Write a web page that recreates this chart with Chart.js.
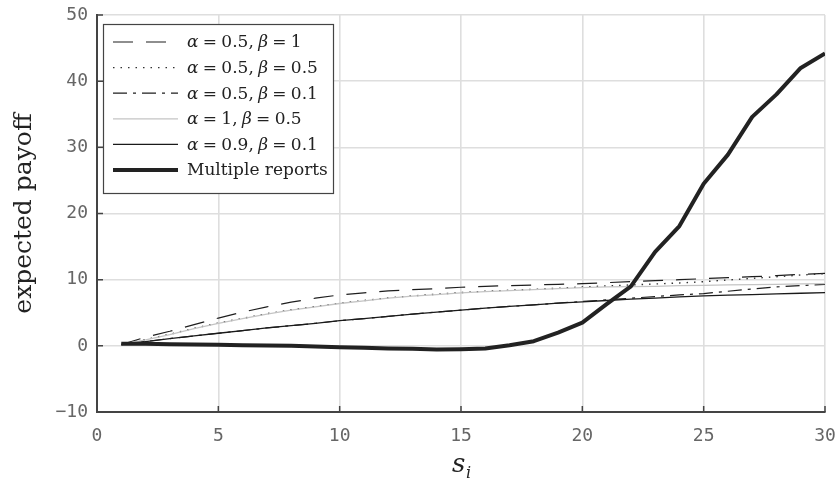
<!DOCTYPE html>
<html>
<head>
<meta charset="utf-8">
<script src="https://cdn.jsdelivr.net/npm/chart.js@4.4.1/dist/chart.umd.min.js"></script>
<style>
  html, body { margin: 0; padding: 0; background: #fff; }
  #wrap { width: 835px; height: 485px; }
</style>
</head>
<body>
<div id="wrap"><canvas id="c"></canvas></div>
<script>
// Expected payoff vs s_i for several (alpha, beta) settings, plus the multiple-reports case.
const S = [1, 2, 3, 4, 5, 6, 7, 8, 9, 10, 11, 12, 13, 14, 15,
           16, 17, 18, 19, 20, 21, 22, 23, 24, 25, 26, 27, 28, 29, 30];

const LABELS = ["α = 0.5, β = 1", "α = 0.5, β = 0.5", "α = 0.5, β = 0.1",
                "α = 1, β = 0.5", "α = 0.9, β = 0.1", "Multiple reports"];

const A05_B1 = [0.2, 1.3, 2.2, 3.2, 4.2, 5.1, 5.9, 6.6, 7.2, 7.7, 8.0, 8.3, 8.5, 8.65, 8.85,
                9.0, 9.1, 9.2, 9.3, 9.4, 9.55, 9.7, 9.85, 10.0, 10.15, 10.3, 10.45, 10.6, 10.8, 10.95];
const A05_B05 = [0.2, 0.95, 1.75, 2.65, 3.45, 4.15, 4.85, 5.45, 5.95, 6.45, 6.85, 7.25, 7.55, 7.8, 8.05,
                 8.25, 8.4, 8.55, 8.7, 8.9, 9.05, 9.2, 9.35, 9.5, 9.7, 9.95, 10.2, 10.45, 10.7, 10.9];
const A05_B01 = [0.2, 0.65, 1.1, 1.5, 1.9, 2.3, 2.7, 3.05, 3.4, 3.8, 4.1, 4.45, 4.8, 5.1, 5.4,
                 5.7, 5.95, 6.2, 6.45, 6.7, 6.95, 7.2, 7.45, 7.7, 7.9, 8.25, 8.6, 8.9, 9.1, 9.3];
const A1_B05 = [0.2, 0.9, 1.7, 2.6, 3.4, 4.1, 4.8, 5.4, 5.9, 6.4, 6.8, 7.2, 7.5, 7.75, 8.0,
                8.2, 8.35, 8.5, 8.65, 8.8, 8.9, 8.95, 9.0, 9.1, 9.15, 9.2, 9.25, 9.3, 9.35, 9.4];
const A09_B01 = [0.2, 0.65, 1.1, 1.5, 1.9, 2.3, 2.7, 3.05, 3.4, 3.8, 4.1, 4.45, 4.8, 5.1, 5.4,
                 5.7, 5.95, 6.2, 6.45, 6.65, 6.85, 7.05, 7.2, 7.4, 7.55, 7.65, 7.75, 7.85, 7.95, 8.05];
const MULTI = [0.3, 0.3, 0.25, 0.2, 0.15, 0.1, 0.05, 0.0, -0.1, -0.2, -0.3, -0.4, -0.45, -0.55, -0.5,
               -0.4, 0.1, 0.7, 2.0, 3.5, 6.3, 9.0, 14.2, 18.1, 24.5, 28.9, 34.6, 38.0, 42.0, 44.2];

const X_TICKS = [0, 5, 10, 15, 20, 25, 30];
const Y_TICKS = [-10, 0, 10, 20, 30, 40, 50];

const pts = (arr) => S.map((s, i) => ({ x: s, y: arr[i] }));

const STYLES = [
  { borderColor: "#1e1e1e", borderWidth: 1.2, borderDash: [20, 13] },
  { borderColor: "#333", borderWidth: 1.4, borderDash: [1.5, 6] },
  { borderColor: "#1e1e1e", borderWidth: 1.2, borderDash: [14, 6, 3, 6] },
  { borderColor: "#c4c4c4", borderWidth: 1.3, borderDash: [] },
  { borderColor: "#1a1a1a", borderWidth: 1.3, borderDash: [] },
  { borderColor: "#222", borderWidth: 4, borderDash: [] },
];
const VALUES = [A05_B1, A05_B05, A05_B01, A1_B05, A09_B01, MULTI];

const datasets = VALUES.map((v, i) => ({
  label: LABELS[i], data: pts(v), pointRadius: 0, tension: 0, fill: false,
  borderJoinStyle: "round", ...STYLES[i],
})).reverse(); // thick line underneath, thin ones on top

const SERIF = "'DejaVu Serif', 'Liberation Serif', serif";
const MONO = "'DejaVu Sans Mono', 'Liberation Mono', monospace";

// draws text, greek letters in italic; math labels get slightly tighter spaces
function mathText(ctx, text, x, y, size) {
  const math = /[αβ]/.test(text);
  for (const ch of text) {
    ctx.font = (/[αβ]/.test(ch) ? "italic " : "") + `${size}px ${SERIF}`;
    ctx.fillText(ch, x, y);
    x += ctx.measureText(ch).width * (math && ch === " " ? 0.8 : 1);
  }
}

const decor = {
  id: "decor",
  afterDraw(chart) {
    const { ctx, chartArea: a, scales: { x, y } } = chart;
    ctx.save();
    // inward tick marks
    ctx.strokeStyle = "#444"; ctx.lineWidth = 1.5;
    ctx.beginPath();
    X_TICKS.forEach((v) => { const p = x.getPixelForValue(v); ctx.moveTo(p, a.bottom); ctx.lineTo(p, a.bottom - 6); });
    Y_TICKS.forEach((v) => { const p = y.getPixelForValue(v); ctx.moveTo(a.left, p); ctx.lineTo(a.left + 6, p); });
    ctx.stroke();

    // axis titles
    ctx.fillStyle = "#222";
    ctx.textAlign = "center"; ctx.textBaseline = "middle";
    ctx.save();
    ctx.translate(24, (a.top + a.bottom) / 2);
    ctx.rotate(-Math.PI / 2);
    ctx.font = `25px ${SERIF}`;
    ctx.fillText("expected payoff", 0, 0);
    ctx.restore();
    const cx = (a.left + a.right) / 2;
    ctx.textAlign = "left"; ctx.textBaseline = "alphabetic";
    ctx.font = `italic 26px ${SERIF}`;
    ctx.fillText("s", cx - 9, 472);
    ctx.font = `italic 16px ${SERIF}`;
    ctx.fillText("i", cx + 5, 478);

    // legend box
    const bx = 103, by = 24, bw = 230, bh = 169, row0 = 42, dy = 25.6;
    ctx.fillStyle = "#fff"; ctx.fillRect(bx, by, bw, bh);
    ctx.strokeStyle = "#444"; ctx.lineWidth = 1.2;
    ctx.strokeRect(bx + 0.5, by + 0.5, bw, bh);
    LABELS.forEach((lab, i) => {
      const st = STYLES[i], ly = row0 + i * dy;
      ctx.strokeStyle = st.borderColor; ctx.lineWidth = st.borderWidth;
      ctx.setLineDash(st.borderDash);
      ctx.beginPath(); ctx.moveTo(113, ly); ctx.lineTo(178, ly); ctx.stroke();
      ctx.setLineDash([]);
      ctx.fillStyle = "#222"; ctx.textBaseline = "middle"; ctx.textAlign = "left";
      mathText(ctx, lab, 187, ly + 1, 17);
    });
    ctx.restore();
  },
};

new Chart(document.getElementById("c"), {
  type: "line",
  data: { datasets },
  plugins: [decor],
  options: {
    responsive: true, maintainAspectRatio: false, animation: false, devicePixelRatio: 1,
    layout: { padding: { top: 15, right: 10, left: 0, bottom: 0 } },
    plugins: { legend: { display: false }, tooltip: { enabled: false } },
    scales: {
      x: {
        type: "linear", min: 0, max: 30,
        afterBuildTicks: (s) => { s.ticks = X_TICKS.map((v) => ({ value: v })); },
        afterFit: (s) => { s.height = 73; s.paddingLeft = 0; s.paddingRight = 0; },
        grid: { color: "#dedede", lineWidth: 1.6, drawTicks: false },
        border: { display: true, color: "#444", width: 2 },
        ticks: { color: "#666", padding: 14, font: { family: MONO, size: 18 } },
      },
      y: {
        type: "linear", min: -10, max: 50,
        afterBuildTicks: (s) => { s.ticks = Y_TICKS.map((v) => ({ value: v })); },
        afterFit: (s) => { s.width = 97; s.paddingTop = 0; s.paddingBottom = 0; },
        grid: { color: "#dedede", lineWidth: 1.6, drawTicks: false },
        border: { display: true, color: "#444", width: 2 },
        ticks: { color: "#666", padding: 9, font: { family: MONO, size: 18 },
                 callback: (v) => String(v).replace("-", "−") },
      },
    },
  },
});
</script>
</body>
</html>
